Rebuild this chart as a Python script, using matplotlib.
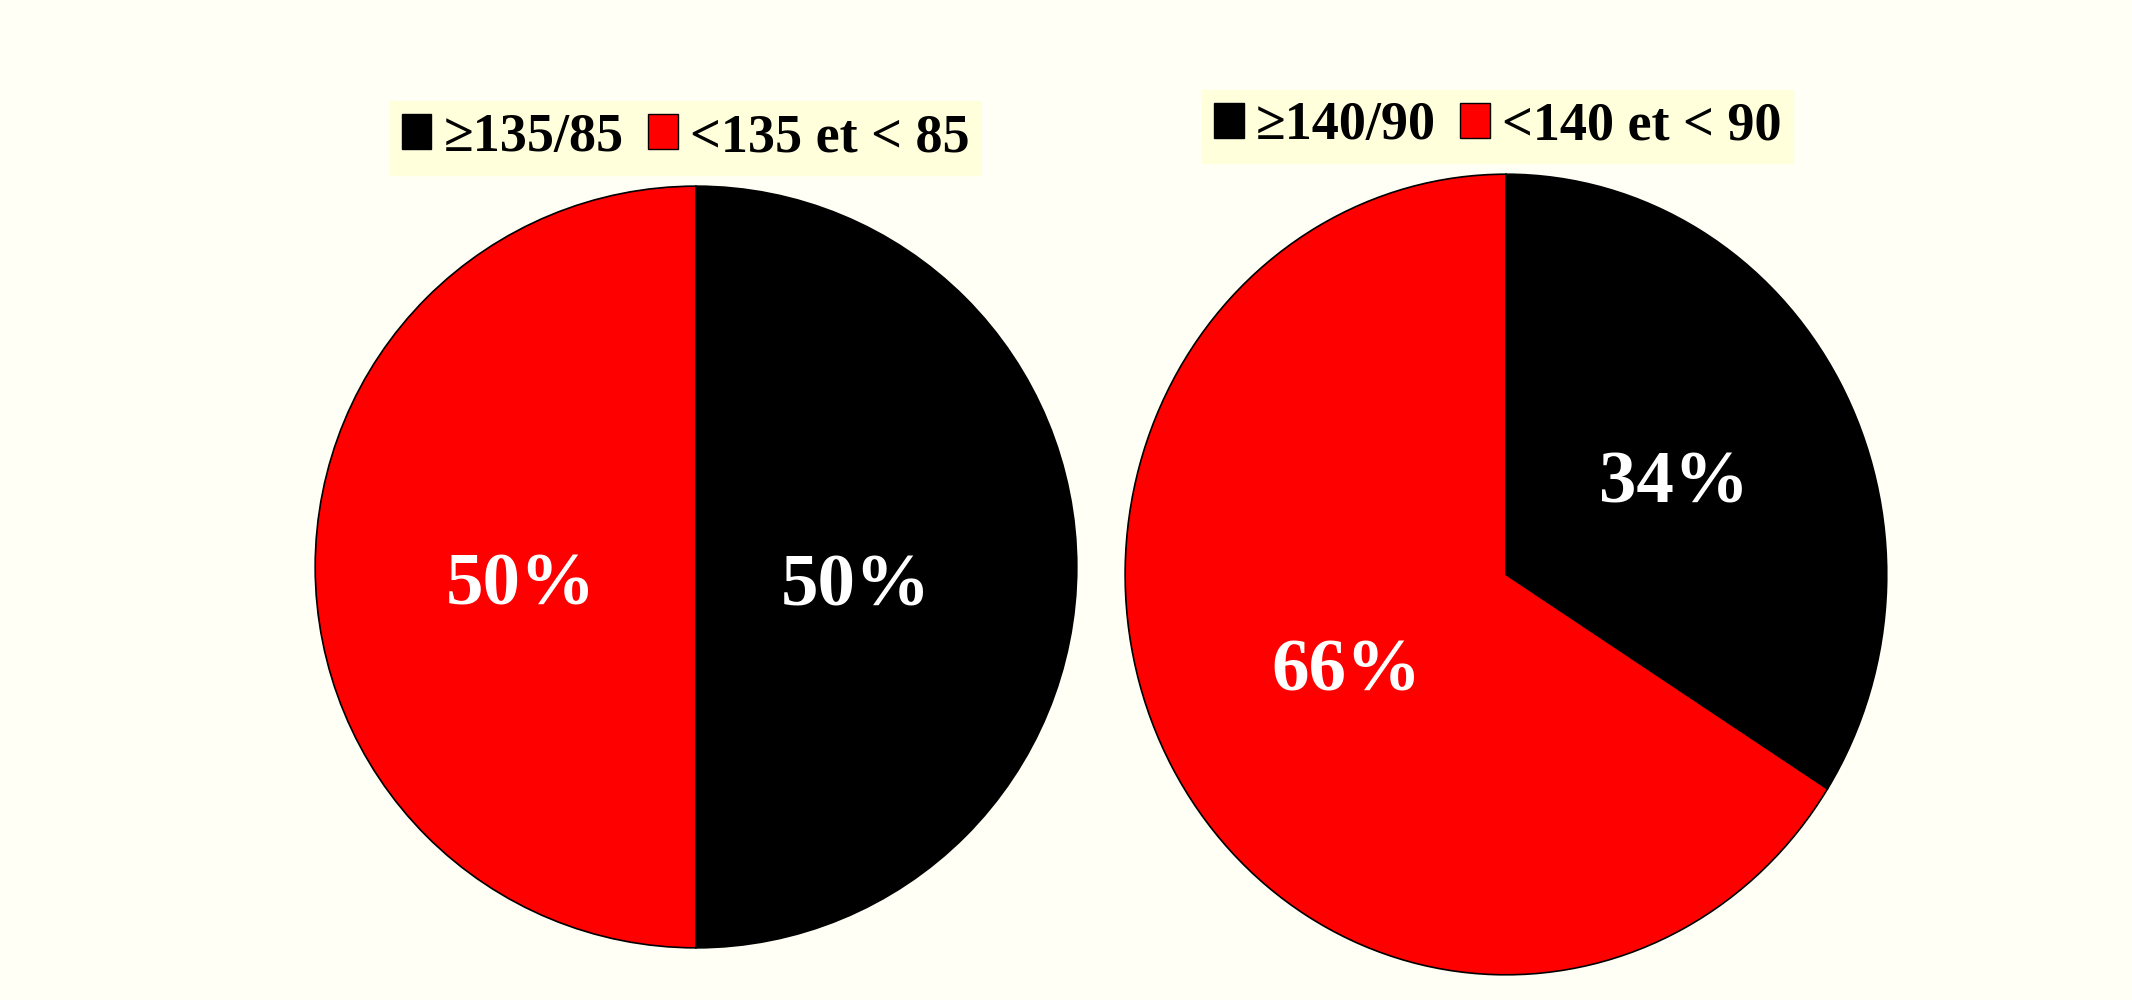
import matplotlib
matplotlib.use("Agg")
import matplotlib.pyplot as plt
from matplotlib.patches import Patch
from matplotlib.transforms import offset_copy

# Data
labels_left = ["\u2265135/85", "<135 et < 85"]
values_left = [50, 50]
labels_right = ["\u2265140/90", "<140 et < 90"]
values_right = [34, 66]
colors = ["#000000", "#FF0000"]

BG = "#FFFFF5"
LEG_BG = "#FFFFDC"
FONT = ["Liberation Serif", "DejaVu Serif"]

fig = plt.figure(figsize=(21.32, 10), dpi=100, facecolor=BG)

def draw(rect, values, labels, pctdist, dx, dy, leg_center):
    ax = fig.add_axes(rect)
    ax.set_facecolor(BG)
    wedges, texts, autotexts = ax.pie(
        values, colors=colors, startangle=90, counterclock=False,
        autopct=lambda p: f"{p:.0f}%", pctdistance=pctdist,
        wedgeprops=dict(edgecolor="black", linewidth=1.2),
        textprops=dict(color="white", fontsize=54, fontweight="bold", family=FONT),
        radius=1.0, frame=False)
    ax.set_aspect("auto")
    ax.set_xlim(-1.003, 1.003)
    ax.set_ylim(-1.003, 1.003)
    for t in autotexts:
        t.set_transform(offset_copy(ax.transData, fig=fig, x=dx, y=dy, units="dots"))
    handles = [Patch(facecolor=c, edgecolor="black", linewidth=1.0) for c in colors]
    leg = fig.legend(handles, labels, loc="center", bbox_to_anchor=leg_center,
                     ncol=2, frameon=True, fancybox=False,
                     prop=dict(family=FONT, weight="bold", size=39),
                     handlelength=0.55, handleheight=0.62, handletextpad=0.22,
                     columnspacing=0.45, borderpad=0.22, borderaxespad=0)
    fr = leg.get_frame()
    fr.set_facecolor(LEG_BG)
    fr.set_edgecolor(LEG_BG)
    fr.set_alpha(1)

draw([0.1473, 0.051, 0.3583, 0.764], values_left, labels_left, 0.44, -8, -20, (0.3215, 0.862))
draw([0.5272, 0.024, 0.3583, 0.803], values_right, labels_right, 0.49, 4, -4, (0.7024, 0.8735))

fig.savefig("out.png", dpi=100, facecolor=BG)
